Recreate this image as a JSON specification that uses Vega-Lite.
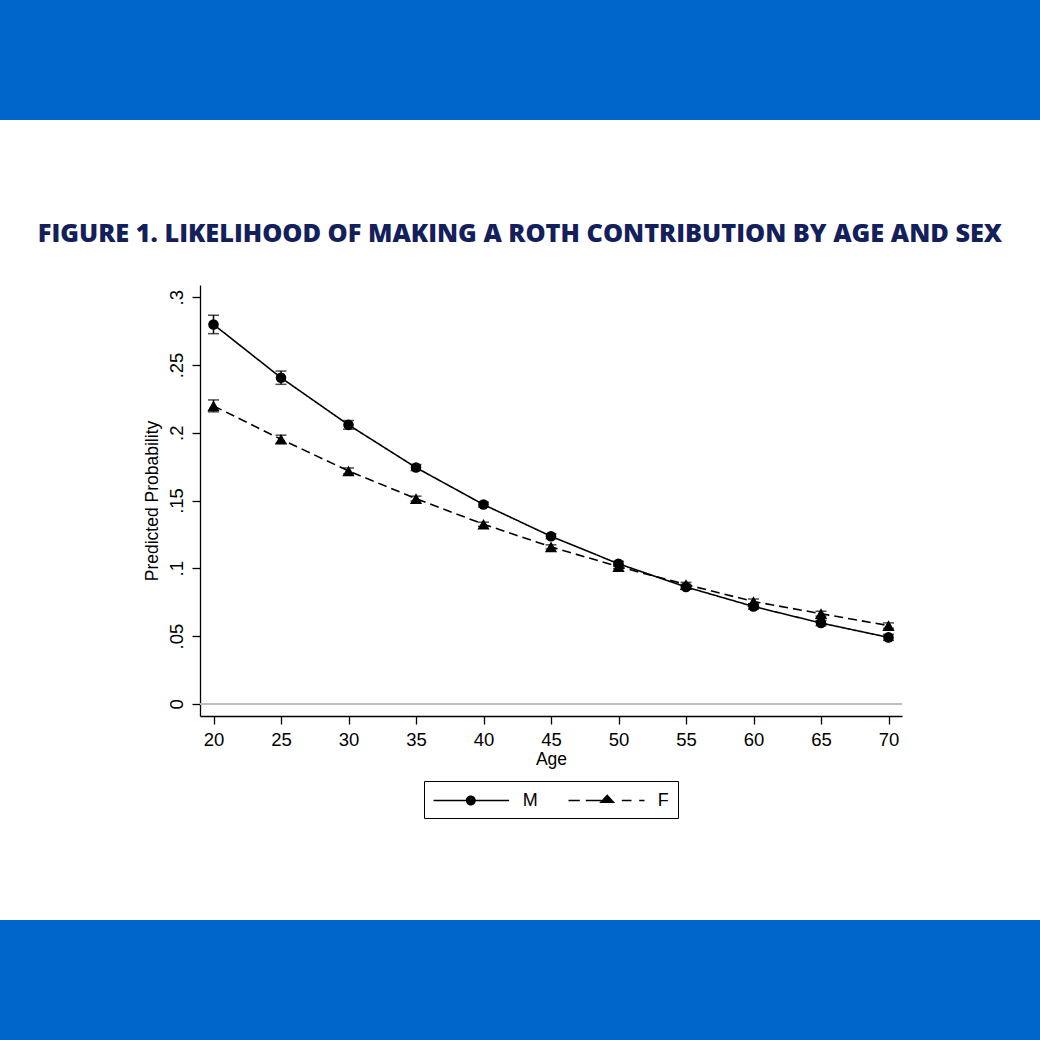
{
  "$schema": "https://vega.github.io/schema/vega-lite/v6.json",
  "padding": 0,
  "background": "white",
  "spacing": 101,
  "datasets": {
    "probs": [
      {"age": 20, "sex": "M", "p": 0.2799, "lo": 0.2731, "hi": 0.2867},
      {"age": 25, "sex": "M", "p": 0.2406, "lo": 0.2357, "hi": 0.2455},
      {"age": 30, "sex": "M", "p": 0.2058, "lo": 0.2026, "hi": 0.2090},
      {"age": 35, "sex": "M", "p": 0.1743, "lo": 0.1721, "hi": 0.1765},
      {"age": 40, "sex": "M", "p": 0.1470, "lo": 0.1452, "hi": 0.1488},
      {"age": 45, "sex": "M", "p": 0.1236, "lo": 0.1218, "hi": 0.1254},
      {"age": 50, "sex": "M", "p": 0.1033, "lo": 0.1015, "hi": 0.1051},
      {"age": 55, "sex": "M", "p": 0.0862, "lo": 0.0844, "hi": 0.0880},
      {"age": 60, "sex": "M", "p": 0.0718, "lo": 0.0698, "hi": 0.0738},
      {"age": 65, "sex": "M", "p": 0.0596, "lo": 0.0576, "hi": 0.0616},
      {"age": 70, "sex": "M", "p": 0.0490, "lo": 0.0468, "hi": 0.0512},
      {"age": 20, "sex": "F", "p": 0.2198, "lo": 0.2154, "hi": 0.2242},
      {"age": 25, "sex": "F", "p": 0.1952, "lo": 0.1922, "hi": 0.1982},
      {"age": 30, "sex": "F", "p": 0.1718, "lo": 0.1696, "hi": 0.1740},
      {"age": 35, "sex": "F", "p": 0.1514, "lo": 0.1496, "hi": 0.1532},
      {"age": 40, "sex": "F", "p": 0.1325, "lo": 0.1310, "hi": 0.1340},
      {"age": 45, "sex": "F", "p": 0.1158, "lo": 0.1143, "hi": 0.1173},
      {"age": 50, "sex": "F", "p": 0.1012, "lo": 0.0997, "hi": 0.1027},
      {"age": 55, "sex": "F", "p": 0.0880, "lo": 0.0864, "hi": 0.0896},
      {"age": 60, "sex": "F", "p": 0.0755, "lo": 0.0737, "hi": 0.0773},
      {"age": 65, "sex": "F", "p": 0.0665, "lo": 0.0647, "hi": 0.0683},
      {"age": 70, "sex": "F", "p": 0.0577, "lo": 0.0557, "hi": 0.0597}
    ],
    "band": [{"band": "edge"}],
    "none": []
  },
  "vconcat": [
    {
      "spacing": 37,
      "vconcat": [
        {
          "width": 1040,
          "height": 120,
          "title": {
            "text": "FIGURE 1. LIKELIHOOD OF MAKING A ROTH CONTRIBUTION BY AGE AND SEX",
            "orient": "bottom",
            "anchor": "middle",
            "offset": 102,
            "font": "Open Sans",
            "fontSize": 25.3,
            "fontWeight": 800,
            "color": "#13205b"
          },
          "data": {"name": "band"},
          "mark": {"type": "rect", "color": "#0066cc"},
          "encoding": {
            "x": {"datum": 0, "type": "quantitative", "scale": {"domain": [0, 1], "nice": false}, "axis": null},
            "x2": {"datum": 1},
            "y": {"datum": 0, "type": "quantitative", "scale": {"domain": [0, 1], "nice": false}, "axis": null},
            "y2": {"datum": 1}
          }
        },
        {
          "spacing": 0,
          "hconcat": [
            {
              "width": 143,
              "height": 10,
              "data": {"name": "none"},
              "mark": "point"
            },
            {
              "width": 702,
              "height": 431,
              "data": {"name": "probs"},
              "encoding": {
                "x": {
                  "field": "age",
                  "type": "quantitative",
                  "title": "Age",
                  "scale": {"domain": [19, 71], "nice": false, "zero": false},
                  "axis": {"values": [20, 25, 30, 35, 40, 45, 50, 55, 60, 65, 70], "labelPadding": 6, "titlePadding": 2}
                },
                "y": {
                  "field": "p",
                  "type": "quantitative",
                  "title": "Predicted Probability",
                  "scale": {"domain": [-0.009, 0.309], "nice": false, "zero": false},
                  "axis": {
                    "values": [0, 0.05, 0.1, 0.15, 0.2, 0.25, 0.3],
                    "labelExpr": "datum.value == 0 ? '0' : replace(format(datum.value, '.2~f'), '0.', '.')",
                    "labelAngle": -90,
                    "labelAlign": "center",
                    "labelBaseline": "bottom",
                    "labelPadding": 6,
                    "titlePadding": 5.5
                  }
                }
              },
              "layer": [
                {
                  "mark": {"type": "rule", "color": "#bdbdbd", "strokeWidth": 1.6},
                  "encoding": {"x": null, "y": {"datum": 0, "type": "quantitative"}}
                },
                {
                  "mark": {"type": "errorbar", "color": "black", "thickness": 1.5, "ticks": {"size": 11, "thickness": 1.5, "color": "black"}},
                  "encoding": {
                    "y": {"field": "lo", "type": "quantitative"},
                    "y2": {"field": "hi"},
                    "detail": {"field": "sex"}
                  }
                },
                {
                  "mark": {"type": "line", "color": "black", "strokeWidth": 1.6},
                  "encoding": {
                    "strokeDash": {
                      "field": "sex",
                      "type": "nominal",
                      "scale": {"domain": ["M", "F"], "range": [[1, 0], [9, 5]]},
                      "legend": null
                    }
                  }
                },
                {
                  "mark": {"type": "point", "filled": true, "color": "black", "opacity": 1},
                  "encoding": {
                    "shape": {
                      "field": "sex",
                      "type": "nominal",
                      "scale": {"domain": ["M", "F"], "range": ["circle", "triangle-up"]},
                      "legend": null
                    },
                    "size": {
                      "field": "sex",
                      "type": "nominal",
                      "scale": {"domain": ["M", "F"], "range": [112, 150]},
                      "legend": null
                    }
                  }
                },
                {
                  "data": {"name": "none"},
                  "mark": {"type": "point", "filled": true, "color": "black", "opacity": 1},
                  "encoding": {
                    "x": null,
                    "y": null,
                    "shape": {
                      "field": "sex",
                      "type": "nominal",
                      "scale": {
                        "domain": ["M", "F"],
                        "range": [
                          "M-1,-0.065H6.56V0.065H-1Z M2.23,0A0.5,0.5 0 1,1 3.23,0A0.5,0.5 0 1,1 2.23,0Z",
                          "M-1,-0.065H0.13V0.065H-1Z M0.73,-0.065H2.3V0.065H0.73Z M4.33,-0.065H5.3V0.065H4.33Z M6.07,-0.065H6.6V0.065H6.07Z M2.87,-0.62L3.67,0.26L2.07,0.26Z"
                        ]
                      },
                      "legend": {
                        "orient": "bottom",
                        "direction": "horizontal",
                        "title": null,
                        "strokeColor": "black",
                        "padding": 8.5,
                        "offset": 13,
                        "labelFont": "Liberation Sans",
                        "labelFontSize": 18,
                        "labelColor": "black",
                        "labelOffset": 68.3,
                        "columnPadding": 27,
                        "symbolSize": 400,
                        "symbolFillColor": "black",
                        "symbolOpacity": 1,
                        "encode": {
                          "symbols": {
                            "fill": {"value": "black"},
                            "opacity": {"value": 1}
                          }
                        }
                      }
                    }
                  }
                }
              ],
              "resolve": {"scale": {"shape": "independent"}, "legend": {"shape": "independent"}}
            }
          ]
        }
      ]
    },
    {
      "width": 1040,
      "height": 120,
      "data": {"name": "band"},
      "mark": {"type": "rect", "color": "#0066cc"},
      "encoding": {
        "x": {"datum": 0, "type": "quantitative", "scale": {"domain": [0, 1], "nice": false}, "axis": null},
        "x2": {"datum": 1},
        "y": {"datum": 0, "type": "quantitative", "scale": {"domain": [0, 1], "nice": false}, "axis": null},
        "y2": {"datum": 1}
      }
    }
  ],
  "config": {
    "view": {"stroke": null},
    "font": "Liberation Sans",
    "axis": {
      "grid": false,
      "domainColor": "black",
      "domainWidth": 1.3,
      "tickColor": "black",
      "tickWidth": 1.3,
      "tickSize": 8,
      "labelFont": "Liberation Sans",
      "labelFontSize": 18.5,
      "labelColor": "black",
      "titleFont": "Liberation Sans",
      "titleFontSize": 17.5,
      "titleFontWeight": "normal",
      "titleColor": "black"
    },
    "legend": {"layout": {"bottom": {"anchor": "middle"}}}
  }
}
